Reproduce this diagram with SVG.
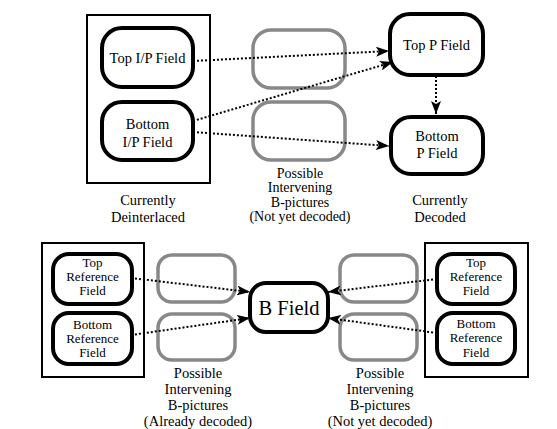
<svg xmlns="http://www.w3.org/2000/svg" width="557" height="429" viewBox="0 0 557 429">
<defs>
<marker id="ah" markerUnits="userSpaceOnUse" markerWidth="14" markerHeight="10" refX="13" refY="5" orient="auto">
<path d="M0,0 L13,5 L0,10 L3,5 z" fill="#000"/>
</marker>
<style>
.frame{fill:none;stroke:#000;stroke-width:2}
.node{fill:#fff;stroke:#000;stroke-width:4}
.ghost{fill:#fff;stroke:#888;stroke-width:3.5}
text{font-family:'Liberation Serif','Times New Roman',serif;fill:#000;text-anchor:middle}
.t{font-size:14.5px}
.m{font-size:14px}
.s{font-size:13px}
.b{font-size:20.5px}
.c{fill:none;stroke:#000;stroke-width:2;stroke-dasharray:2 2;marker-end:url(#ah)}
</style>
</defs>
<rect width="557" height="429" fill="#fff"/>

<g id="frames">
<rect class="frame" x="87" y="15" width="123" height="168"/>
<rect class="frame" x="42" y="243" width="102" height="134"/>
<rect class="frame" x="425" y="243" width="103" height="134"/>
</g>

<g id="ghost-top-1"><rect class="ghost" x="253" y="30" width="92" height="58" rx="18"/></g>
<g id="ghost-top-2"><rect class="ghost" x="253" y="102" width="92" height="58" rx="18"/></g>
<g id="ghost-bl-1"><rect class="ghost" x="158" y="255" width="77" height="47" rx="14"/></g>
<g id="ghost-bl-2"><rect class="ghost" x="158" y="314" width="77" height="46" rx="14"/></g>
<g id="ghost-br-1"><rect class="ghost" x="340" y="255" width="77" height="47" rx="14"/></g>
<g id="ghost-br-2"><rect class="ghost" x="340" y="314" width="77" height="46" rx="14"/></g>

<g id="connectors">
<line class="c" x1="193" y1="61" x2="389" y2="51"/>
<line class="c" x1="193" y1="121" x2="393" y2="62"/>
<line class="c" x1="193" y1="132" x2="389" y2="146"/>
<line class="c" x1="436" y1="76" x2="436" y2="114"/>
<line class="c" x1="131" y1="278" x2="250" y2="292"/>
<line class="c" x1="131" y1="335" x2="250" y2="318"/>
<line class="c" x1="437" y1="279" x2="328" y2="292"/>
<line class="c" x1="437" y1="333" x2="328" y2="318"/>
</g>

<g id="top-ip">
<rect class="node" x="102" y="28" width="91" height="59" rx="20"/>
<text class="t" x="147.5" y="63">Top I/P Field</text>
</g>
<g id="bottom-ip">
<rect class="node" x="102" y="102" width="91" height="58" rx="20"/>
<text class="t" x="147.5" y="129">Bottom</text>
<text class="t" x="147.5" y="147">I/P Field</text>
</g>
<g id="top-p">
<rect class="node" x="390" y="14" width="93" height="61" rx="20"/>
<text class="t" x="436.5" y="50">Top P Field</text>
</g>
<g id="bottom-p">
<rect class="node" x="391" y="117" width="92" height="57" rx="20"/>
<text class="t" x="437" y="141">Bottom</text>
<text class="t" x="437" y="158">P Field</text>
</g>

<g id="labels-top">
<text class="t" x="148" y="205">Currently</text>
<text class="t" x="148" y="222">Deinterlaced</text>
<text class="m" x="300" y="177.5">Possible</text>
<text class="m" x="300" y="192">Intervening</text>
<text class="m" x="300" y="206.5">B-pictures</text>
<text class="m" x="300" y="221">(Not yet decoded)</text>
<text class="t" x="440" y="205">Currently</text>
<text class="t" x="440" y="222">Decoded</text>
</g>

<g id="left-top-ref">
<rect class="node" x="53" y="254" width="79" height="50" rx="16"/>
<text class="s" x="92.5" y="267">Top</text>
<text class="s" x="92.5" y="281">Reference</text>
<text class="s" x="92.5" y="295">Field</text>
</g>
<g id="left-bottom-ref">
<rect class="node" x="53" y="313" width="79" height="51" rx="16"/>
<text class="s" x="92.5" y="329">Bottom</text>
<text class="s" x="92.5" y="343">Reference</text>
<text class="s" x="92.5" y="357">Field</text>
</g>
<g id="b-field">
<rect class="node" x="250" y="283" width="78" height="49" rx="16"/>
<text class="b" x="289" y="315">B Field</text>
</g>
<g id="right-top-ref">
<rect class="node" x="437" y="254" width="78" height="50" rx="16"/>
<text class="s" x="476" y="267">Top</text>
<text class="s" x="476" y="281">Reference</text>
<text class="s" x="476" y="295">Field</text>
</g>
<g id="right-bottom-ref">
<rect class="node" x="437" y="313" width="78" height="51" rx="16"/>
<text class="s" x="476" y="328">Bottom</text>
<text class="s" x="476" y="342">Reference</text>
<text class="s" x="476" y="357">Field</text>
</g>

<g id="labels-bottom">
<text class="t" x="198" y="378">Possible</text>
<text class="t" x="198" y="394">Intervening</text>
<text class="t" x="198" y="410">B-pictures</text>
<text class="t" x="198" y="426">(Already decoded)</text>
<text class="t" x="380" y="378">Possible</text>
<text class="t" x="380" y="394">Intervening</text>
<text class="t" x="380" y="410">B-pictures</text>
<text class="t" x="380" y="426">(Not yet decoded)</text>
</g>
</svg>
